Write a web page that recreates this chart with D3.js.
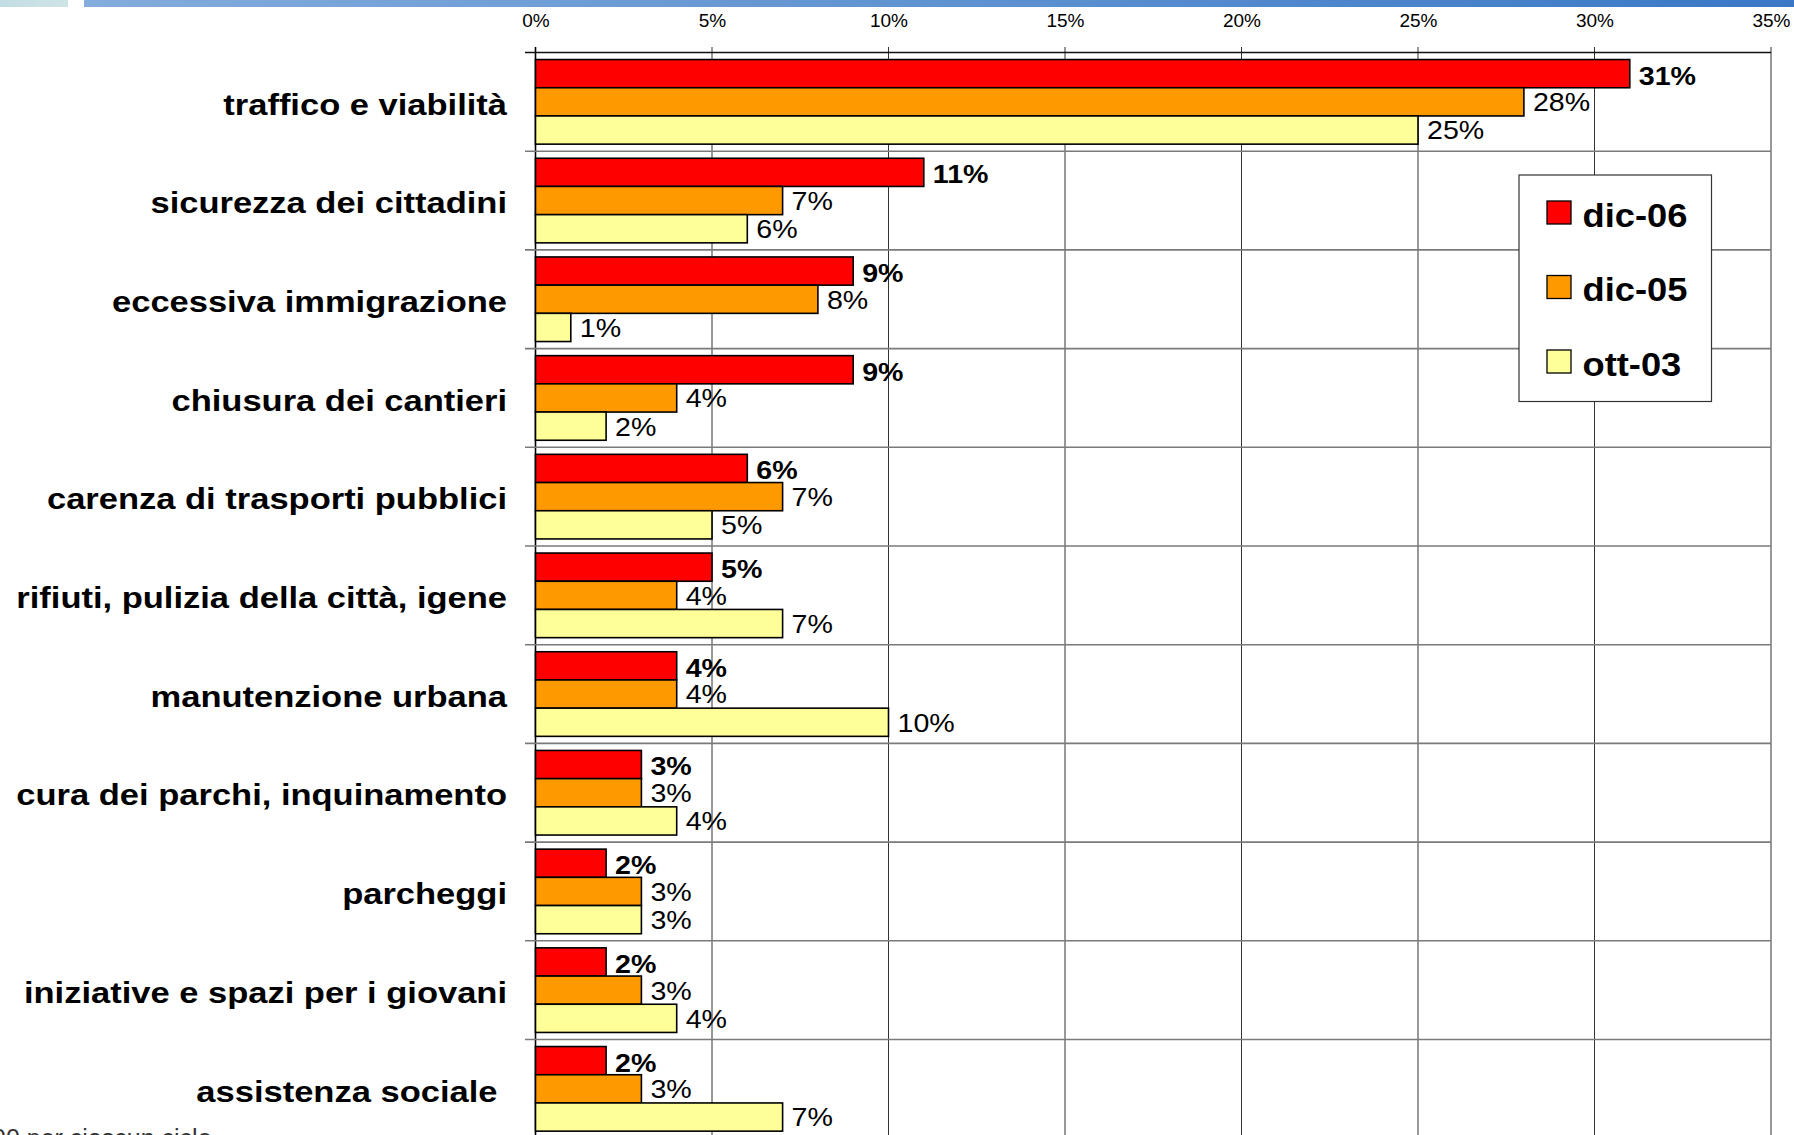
<!DOCTYPE html>
<html>
<head>
<meta charset="utf-8">
<script src="https://cdn.jsdelivr.net/npm/d3@7"></script>
<style>
  html, body { margin: 0; padding: 0; background: #fff; }
  svg { display: block; }
  text { font-family: "Liberation Sans", Arial, sans-serif; }
</style>
</head>
<body>
<svg id="chart" width="1794" height="1135"></svg>
<script>
// ---- data ----
const categories = [
  "traffico e viabilità",
  "sicurezza dei cittadini",
  "eccessiva immigrazione",
  "chiusura dei cantieri",
  "carenza di trasporti pubblici",
  "rifiuti, pulizia della città, igene",
  "manutenzione urbana",
  "cura dei parchi, inquinamento",
  "parcheggi",
  "iniziative e spazi per i giovani",
  "assistenza sociale "
];
const seriesNames = ["dic-06", "dic-05", "ott-03"];
const dic06 = [31, 11, 9, 9, 6, 5, 4, 3, 2, 2, 2];
const dic05 = [28, 7, 8, 4, 7, 4, 4, 3, 3, 3, 3];
const ott03 = [25, 6, 1, 2, 5, 7, 10, 4, 3, 4, 7];
const xTicks = [0, 5, 10, 15, 20, 25, 30, 35];
const footnote = "00 per ciascun ciclo";

const seriesValues = [dic06, dic05, ott03];
const colors = ["#ff0000", "#ff9900", "#ffff99"];

// ---- layout ----
const W = 1794, H = 1135;
const svg = d3.select("#chart");
const x = d3.scaleLinear().domain([0, 35]).range([535.5, 1771]);
const bandH = 98.7;
const y = d3.scaleBand().domain(categories).range([52.5, 52.5 + bandH * categories.length]).padding(0);
const inner = d3.scaleBand().domain(seriesNames).range([0, y.bandwidth()]).paddingInner(0).paddingOuter(0.25);

// ---- top banner ----
const defs = svg.append("defs");
const g1 = defs.append("linearGradient").attr("id", "ban").attr("x1", "0").attr("x2", "1");
g1.append("stop").attr("offset", "0").attr("stop-color", "#84acdc");
g1.append("stop").attr("offset", "1").attr("stop-color", "#3a78c6");
const g2 = defs.append("linearGradient").attr("id", "ban2").attr("x1", "0").attr("x2", "1");
g2.append("stop").attr("offset", "0").attr("stop-color", "#c2dde4");
g2.append("stop").attr("offset", "1").attr("stop-color", "#cfe4e6");
svg.append("rect").attr("x", 0).attr("y", 0).attr("width", 68).attr("height", 7).attr("fill", "url(#ban2)");
svg.append("rect").attr("x", 84).attr("y", 0).attr("width", W - 84).attr("height", 7).attr("fill", "url(#ban)");

// ---- gridlines ----
const plotBottom = H + 10;
svg.append("g").selectAll("line").data(xTicks).join("line")
  .attr("x1", d => x(d)).attr("x2", d => x(d))
  .attr("y1", 47).attr("y2", plotBottom)
  .attr("stroke", d => (d === 0 ? "#000" : "#333")).attr("stroke-width", d => (d === 0 ? 1.6 : 1));

const hLines = categories.map(c => y(c)).concat([y(categories[categories.length - 1]) + y.bandwidth()]);
svg.append("g").selectAll("line").data(hLines).join("line")
  .attr("x1", 525).attr("x2", x(35))
  .attr("y1", d => d).attr("y2", d => d)
  .attr("stroke", (d, i) => (i === 0 ? "#111" : "#7a7a7a"))
  .attr("stroke-width", (d, i) => (i === 0 ? 1.4 : 1.6));

// ---- axis tick labels ----
const axis = d3.axisTop(x).tickValues(xTicks).tickFormat(d => d + "%").tickSize(0).tickPadding(0);
const ax = svg.append("g").attr("transform", "translate(0,27)").call(axis);
ax.select(".domain").remove();
ax.selectAll("text").attr("font-size", 19).attr("fill", "#000")
  .attr("font-family", "'Liberation Sans', Arial, sans-serif").attr("dy", 0);

// ---- bars ----
const groups = svg.append("g").selectAll("g").data(categories).join("g")
  .attr("transform", c => `translate(0,${y(c)})`);

groups.each(function (c, ci) {
  const g = d3.select(this);
  seriesNames.forEach((s, si) => {
    const v = seriesValues[si][ci];
    const by = inner(s);
    g.append("rect")
      .attr("x", x(0)).attr("y", by)
      .attr("width", x(v) - x(0)).attr("height", inner.bandwidth())
      .attr("fill", colors[si]).attr("stroke", "#000").attr("stroke-width", 1.6);
    g.append("g")
      .attr("transform", `translate(${x(v) + 9},${by + inner.bandwidth() / 2 + (si === 0 ? 1.5 : 0)}) scale(1.1,1)`)
      .append("text")
      .attr("dy", "0.36em")
      .attr("font-size", 26)
      .attr("font-weight", si === 0 ? "bold" : "normal")
      .attr("fill", "#000")
      .text(v + "%");
  });
  // category label
  g.append("g")
    .attr("transform", `translate(507,${y.bandwidth() / 2 + 2.3}) scale(1.19,1)`)
    .append("text")
    .attr("text-anchor", "end")
    .attr("dy", "0.36em")
    .attr("font-size", 29)
    .attr("font-weight", "bold")
    .attr("fill", "#000")
    .style("white-space", "pre")
    .text(c);
});

// ---- legend ----
const leg = svg.append("g");
leg.append("rect").attr("x", 1519).attr("y", 175).attr("width", 192.5).attr("height", 226.5)
  .attr("fill", "#fff").attr("stroke", "#333").attr("stroke-width", 1.2);
const legY = d3.scalePoint().domain(seriesNames).range([213, 362]);
seriesNames.forEach((s, i) => {
  leg.append("rect").attr("x", 1547).attr("y", legY(s) - 12).attr("width", 24).attr("height", 23)
    .attr("fill", colors[i]).attr("stroke", "#000").attr("stroke-width", 1.3);
  leg.append("g").attr("transform", `translate(1582.5,${legY(s) + 2}) scale(1.1,1)`)
    .append("text").attr("dy", "0.36em").attr("font-size", 33).attr("font-weight", "bold")
    .attr("fill", "#000").text(s);
});

// ---- cut-off footnote (cut by the bottom edge, as in the reference) ----
svg.append("text").attr("x", -8).attr("y", 1146.5)
  .attr("font-family", "'DejaVu Sans', Verdana, sans-serif")
  .attr("font-size", 25).attr("fill", "#333").text(footnote);
</script>
</body>
</html>
